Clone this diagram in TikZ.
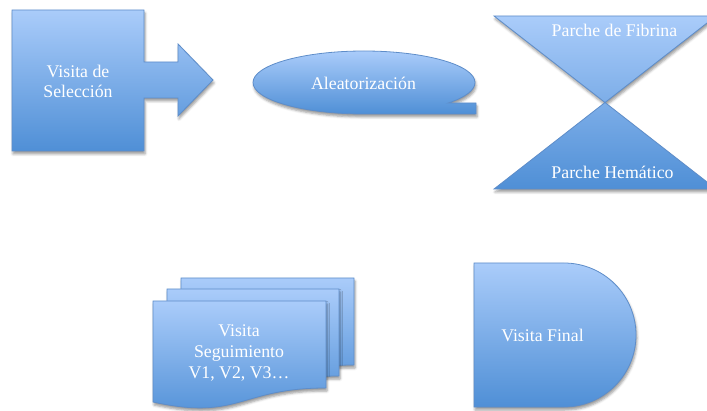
\documentclass[tikz,border=0pt]{standalone}
\usepackage{fontspec}
\setmainfont{Liberation Serif}
\usetikzlibrary{shadows.blur}
\definecolor{topblue}{RGB}{170,204,250}
\definecolor{botblue}{RGB}{79,143,214}
\definecolor{edgeblue}{RGB}{94,141,201}
\tikzset{
  shapefill/.style={draw=edgeblue, line width=0.8pt, top color=topblue, bottom color=botblue,
    blur shadow={shadow xshift=1pt, shadow yshift=-3pt, shadow blur radius=2.5pt, shadow opacity=40}},
  label/.style={text=white, align=center, font=\fontsize{17.8}{20.5}\selectfont, inner sep=0pt}
}
\begin{document}
\begin{tikzpicture}[x=1pt,y=1pt]
\useasboundingbox (0,0) rectangle (707,410);
% arrow callout
\path[shapefill] (12,400) -- (144,400) -- (144,348) -- (178,348) -- (178,366) -- (213,330)
  -- (178,294) -- (178,312) -- (144,312) -- (144,259) -- (12,259) -- cycle;
\node[label] (sel) at (78,328.5) {Visita de\\Selección};
% ellipse callout
\path[shapefill] (476,307) -- (476,296) -- (364,296)
  arc[start angle=-90, end angle=-400.6, x radius=111, y radius=31.5] -- cycle;
\node[label] (alea) at (363.5,327) {Aleatorización};
% collate / hourglass
\path[shapefill] (494,394) -- (716,394) -- (494,221) -- (716,221) -- cycle;
\node[label] (fib) at (614.5,380) {Parche de Fibrina};
\node[label] (hem) at (612.5,238) {Parche Hemático};
% multi-document
\path[shapefill] (181,132) -- (354,132) -- (354,45) .. controls (267.5,45) and (267.5,12) .. (181,31) -- cycle;
\path[shapefill] (167,121) -- (339,121) -- (339,34) .. controls (253,34) and (253,1) .. (167,20) -- cycle;
\path[shapefill] (153,109) -- (326,109) -- (326,22) .. controls (239.5,22) and (239.5,-11) .. (153,8) -- cycle;
\node[label, font=\fontsize{17.8}{21}\selectfont] (seg) at (239,57) {Visita\\Seguimiento\\V1, V2, V3…};
% delay
\path[shapefill] (474,147) -- (564,147) arc[start angle=90, end angle=-90, radius=72] -- (474,3) -- cycle;
\node[label] (fin) at (542.5,75) {Visita Final};
\end{tikzpicture}
\end{document}
